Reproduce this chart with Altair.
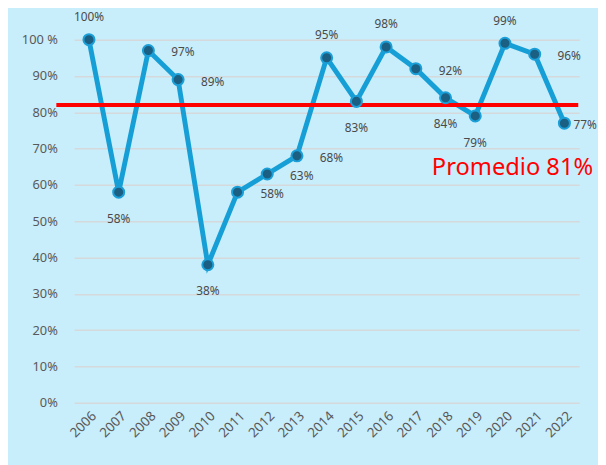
import altair as alt
import pandas as pd

years = [str(y) for y in range(2006, 2023)]
values = [100, 58, 97, 89, 38, 58, 63, 68, 95, 83, 98, 92, 84, 79, 99, 96, 77]
label_side = ["above", "below", "right", "right", "below", "right", "right", "right",
              "above", "below", "above", "right", "below", "below", "above", "right", "edge"]
y_ticks = list(range(0, 101, 10))
average_value = 82
average_text = "Promedio 81%"

df = pd.DataFrame({"year": years, "value": values, "side": label_side})
df["label"] = df["value"].astype(str) + "%"

FONT = "Noto Sans"
x = alt.X("year:O", sort=years,
          scale=alt.Scale(type="point", padding=0.5),
          axis=alt.Axis(title=None, labelAngle=-45, labelFontSize=13.5, labelColor="#595959",
                        labelPadding=6, ticks=False, domain=False, grid=False, labelFont=FONT))
y = alt.Y("value:Q", scale=alt.Scale(domain=[0, 100]),
          axis=alt.Axis(title=None, values=y_ticks, labelOverlap=False,
                        labelExpr="datum.value == 100 ? '100 %' : datum.value + '%'",
                        ticks=False, domain=False, gridColor="#d6d9dc", gridWidth=1.5,
                        labelPadding=17, labelFontSize=13, labelColor="#595959", labelFont=FONT))

base = alt.Chart(df)
line = base.mark_line(color="#159fd6", strokeWidth=5).encode(x=x, y=y)
points = base.mark_point(shape="circle", filled=True, fill="#1b5f82", stroke="#1a9fd8",
                         strokeWidth=2, size=125, opacity=1).encode(x=x, y=y)

offsets = {"above": (0, -23), "below": (0, 27), "right": (35, 2), "edge": (21, 2)}
texts = []
for side, (dx, dy) in offsets.items():
    texts.append(
        base.transform_filter(alt.datum.side == side)
        .mark_text(dx=dx, dy=dy, align="center", baseline="middle", fontSize=12,
                   color="#4a4a4a", font=FONT)
        .encode(x=x, y=y, text="label:N")
    )

avg_df = pd.DataFrame({"value": [average_value], "txt": [average_text]})
rule = alt.Chart(avg_df).mark_rule(color="#ff0000", strokeWidth=4).encode(
    y=y, x=alt.value(-18), x2=alt.value(511))
avg_label = alt.Chart(avg_df).mark_text(
    color="#ff0000", fontSize=24, align="right", baseline="alphabetic", dy=71, font=FONT
).encode(y=y, x=alt.value(526), text="txt:N")

chart = alt.layer(line, rule, points, *texts, avg_label).properties(
    width=512, height=368,
    autosize=alt.AutoSizeParams(type="none"),
    padding={"left": 67, "top": 29, "right": 19, "bottom": 60},
    background="#c8edfb",
).configure_view(stroke=None)

chart.save("out.html", embed_options={"renderer": "svg", "actions": False})
